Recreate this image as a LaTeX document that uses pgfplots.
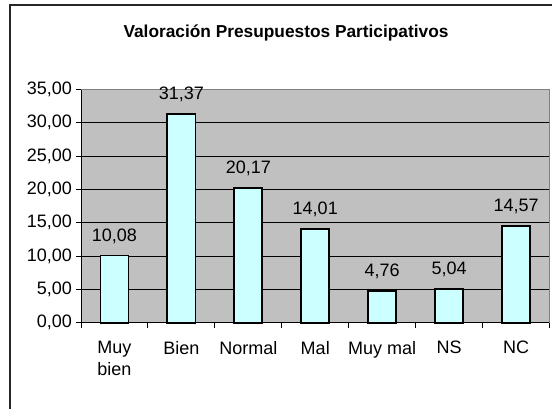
\documentclass[border=0pt]{standalone}
\usepackage{pgfplots}
\pgfplotsset{compat=1.18}
\usepackage{fontspec}
\setmainfont{Liberation Sans}
\definecolor{plotbg}{HTML}{C0C0C0}
\definecolor{barfill}{HTML}{CCFFFF}
\definecolor{frame}{HTML}{808080}
\begin{document}
\begin{tikzpicture}[x=1pt,y=1pt]
\useasboundingbox[fill=white] (0,0) rectangle (552,409);
\draw[line width=1.4pt, black!85] (10,0) -- (10,404) -- (552,404);
\node[anchor=base, font=\bfseries\fontsize{17.3}{20}\selectfont] at (286,371.5) {Valoración Presupuestos Participativos};
\begin{axis}[
  at={(81pt,86.3pt)}, anchor=south west,
  scale only axis, width=468.5pt, height=233.2pt,
  xmin=-0.5, xmax=6.5, ymin=0, ymax=35,
  axis background/.style={fill=plotbg},
  axis x line*=bottom, axis y line*=left,
  axis line style={black, line width=0.9pt},
  ytick={0,5,...,35},
  ymajorgrids, grid style={black, line width=0.9pt},
  xtick={-0.5,0.5,...,6.5},
  x tick label as interval,
  xticklabels={{Muy\\bien},Bien,Normal,Mal,Muy mal,NS,NC},
  tick align=outside, major tick length=5pt,
  tick style={black, line width=0.9pt},
  every tick label/.append style={font=\fontsize{18}{22}\selectfont},
  xticklabel style={align=left, anchor=north, yshift=-10pt},
  yticklabel style={xshift=-0.5pt},
  /pgf/number format/assume math mode=true,
  yticklabel={\pgfmathprintnumber[fixed, fixed zerofill, precision=2, use comma]{\tick}},
  nodes near coords={\pgfmathprintnumber[fixed, fixed zerofill, precision=2, use comma, assume math mode=true]{\pgfplotspointmeta}},
  every node near coord/.append style={anchor=base, yshift=14.5pt, font=\fontsize{18}{20}\selectfont, black},
  clip=false,
]
\addplot[ybar, bar width=0.42, fill=barfill, draw=black, line width=1.8pt] coordinates {
 (0,10.08) (1,31.37) (2,20.17) (3,14.01) (4,4.76) (5,5.04) (6,14.57)
};
\draw[frame, line width=1.2pt] (rel axis cs:0,1) -- (rel axis cs:1,1) -- (rel axis cs:1,0);
\end{axis}
\end{tikzpicture}
\end{document}
